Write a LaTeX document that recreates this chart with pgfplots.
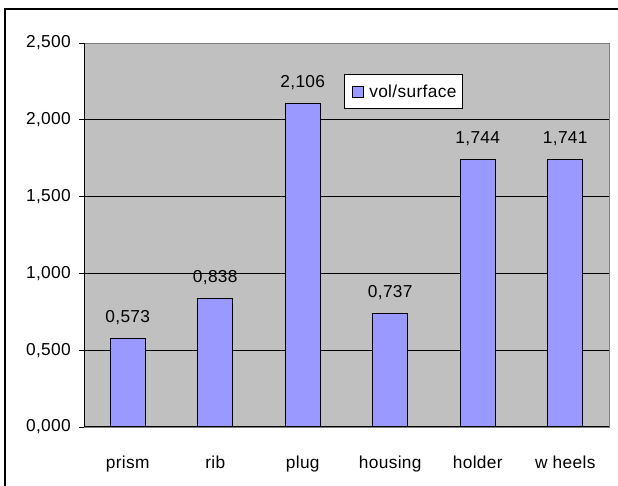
\documentclass[border=0pt]{standalone}
\usepackage{pgfplots}
\pgfplotsset{compat=1.18}
\usepackage{fontspec}
\setmainfont[LetterSpace=2]{Liberation Sans}
\definecolor{plotbg}{HTML}{C0C0C0}
\definecolor{barfill}{HTML}{9999FF}
\definecolor{frame}{HTML}{808080}
\pgfkeys{/pgf/number format/.cd, fixed, fixed zerofill, precision=3, use comma, assume math mode=true}
\newcommand\chartfont{\fontsize{17.3}{20}\selectfont}
\begin{document}
\begin{tikzpicture}[x=1pt,y=1pt]
\useasboundingbox (0,0) rectangle (618,486);
\fill[white] (0,0) rectangle (618,486);
\draw[black, line width=1.2pt] (5,-20) -- (5,477) -- (640,477);
\begin{axis}[
  at={(84pt,59pt)}, anchor=south west,
  scale only axis, width=525pt, height=384pt,
  font=\chartfont,
  tick label style={font=\chartfont},
  xmin=-0.5, xmax=5.5, ymin=0, ymax=2.5,
  axis background/.style={fill=plotbg},
  axis line style={draw=frame, line width=0.9pt},
  ytick={0,0.5,1,1.5,2,2.5},
  ymajorgrids, grid style={black, line width=0.7pt},
  xtick={0,1,2,3,4,5},
  xticklabels={prism,rib,plug,housing,holder,w heels},
  minor xtick={-0.5,0.5,1.5,2.5,3.5,4.5,5.5},
  tick align=outside, major tick length=5pt, minor tick length=5pt,
  xtick style={draw=none},
  minor tick style={black, line width=0.7pt},
  ytick style={black, line width=0.7pt},
  tick pos=left,
  yticklabel style={inner sep=0pt, xshift=-8pt},
  xticklabel style={text height=12.5pt, inner sep=0pt, yshift=-24pt},
  nodes near coords,
  every node near coord/.append style={anchor=base, inner sep=0pt, yshift=16pt, font=\chartfont},
  legend style={at={(0.495,0.919)}, anchor=north west, draw=black, fill=white, line width=0.8pt,
    inner xsep=4pt, inner ysep=8pt, font=\chartfont,
    legend cell align=left},
  legend image code/.code={\path[draw=none, fill=none] (-4pt,0pt) -- (15pt,0pt);\draw[fill=barfill, draw=black, line width=0.9pt] (0pt,-5.5pt) rectangle (11pt,5.5pt);},
]
\draw[black, line width=1.2pt] (rel axis cs:0,0) -- (rel axis cs:0,1);
\draw[black, line width=1.2pt] (rel axis cs:0,0) -- (rel axis cs:1,0);
\addplot[ybar, bar width=35pt, fill=barfill, draw=black, line width=1pt]
  coordinates {(0,0.573) (1,0.838) (2,2.106) (3,0.737) (4,1.744) (5,1.741)};
\addlegendentry{vol/surface}
\end{axis}
\end{tikzpicture}
\end{document}
